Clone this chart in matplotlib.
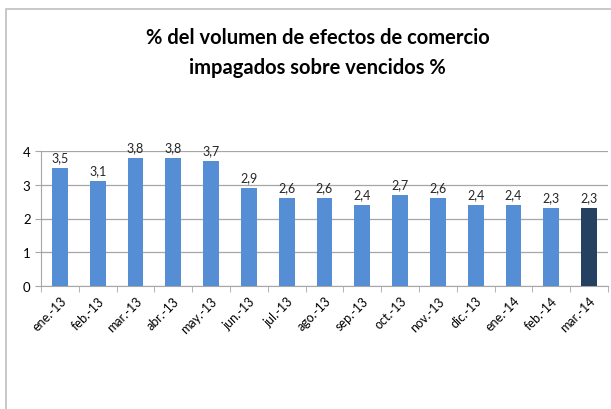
import matplotlib.pyplot as plt
from matplotlib.patches import Rectangle

plt.rcParams['font.family'] = ['Lato', 'DejaVu Sans']

meses = ['ene.-13', 'feb.-13', 'mar.-13', 'abr.-13', 'may.-13', 'jun.-13',
         'jul.-13', 'ago.-13', 'sep.-13', 'oct.-13', 'nov.-13', 'dic.-13',
         'ene.-14', 'feb.-14', 'mar.-14']
valores = [3.5, 3.1, 3.8, 3.8, 3.7, 2.9, 2.6, 2.6, 2.4, 2.7, 2.6, 2.4, 2.4, 2.3, 2.3]
colores = ['#558ED5'] * (len(valores) - 1) + ['#254061']

fig = plt.figure(figsize=(6.11, 4.10), dpi=100)
fig.patches.append(Rectangle((6 / 611, -0.1), 1.2, 1 - 10 / 410 + 0.1,
                             transform=fig.transFigure, fill=False,
                             edgecolor='#BFBFBF', linewidth=1.2))

ax = fig.add_axes([41 / 611, 1 - 287 / 410, 567 / 611, 135 / 410])
x = range(len(valores))
ax.bar(x, valores, width=0.42, color=colores, zorder=3)
for i, v in zip(x, valores):
    ax.text(i, v + 0.14, ('%.1f' % v).replace('.', ','), ha='center', va='bottom',
            fontsize=9, color='#262626')

ax.set_xlim(-0.5, len(valores) - 0.5)
ax.set_ylim(0, 4)
ax.set_yticks([0, 1, 2, 3, 4])
ax.yaxis.grid(True, color='#A6A6A6', linewidth=0.9, zorder=0)
ax.set_xticks(x)
ax.set_xticklabels(meses, rotation=45, ha='right', rotation_mode='anchor', fontsize=9)
ax.set_xticks([i - 0.5 for i in range(len(valores) + 1)], minor=True)
ax.tick_params(axis='x', which='major', length=0, pad=6)
ax.tick_params(axis='x', which='minor', length=4, color='#A6A6A6')
ax.tick_params(axis='y', length=4, color='#A6A6A6', labelsize=9.5)
for s in ['top', 'right']:
    ax.spines[s].set_visible(False)
for s in ['left', 'bottom']:
    ax.spines[s].set_color('#A6A6A6')

fig.text(0.52, 1 - 53 / 410, '% del volumen de efectos de comercio\nimpagados sobre vencidos %',
         ha='center', va='center', fontsize=14.5, fontweight='bold', linespacing=1.65)

fig.savefig('out.png', dpi=100)
